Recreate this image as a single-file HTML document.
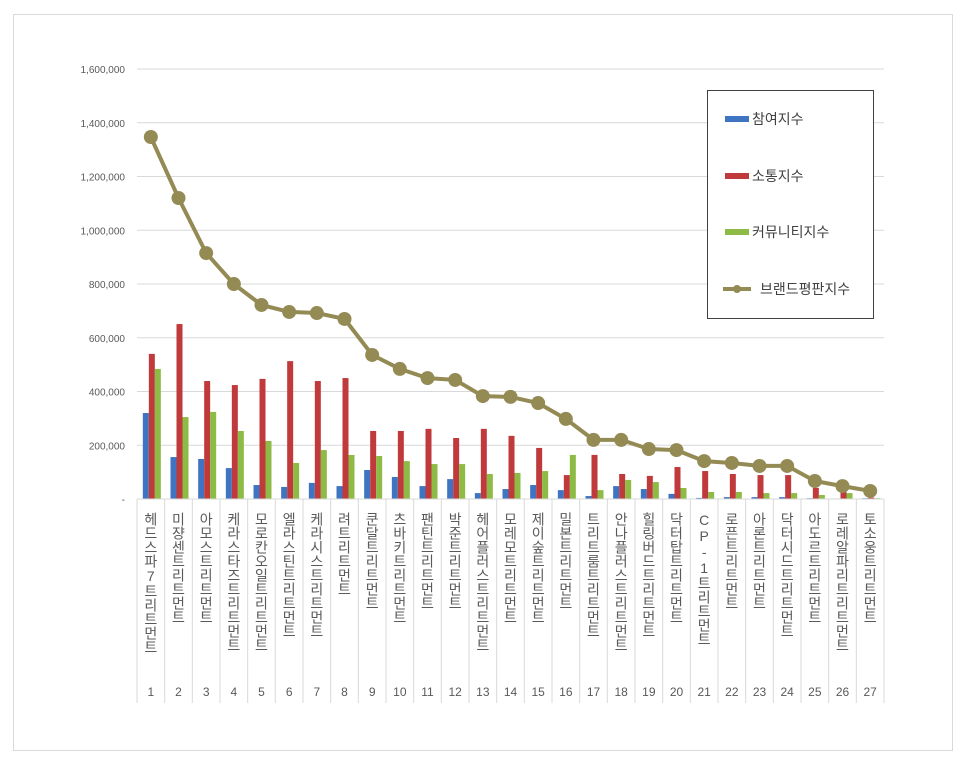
<!DOCTYPE html>
<html><head><meta charset="utf-8"><style>
body{margin:0;background:#fff;width:966px;height:762px;overflow:hidden;font-family:"Liberation Sans","Noto Sans CJK KR",sans-serif}
svg{position:absolute;left:0;top:0}
</style></head><body>
<svg id="chart" width="966" height="762" xmlns="http://www.w3.org/2000/svg">
<rect x="13.5" y="14.5" width="939" height="736" fill="#fff" stroke="#d9d9d9"/>
<g id="grid"></g><g id="bars"></g><g id="line"></g><g id="xaxis"></g>
<g>
<rect x="707.5" y="90.5" width="166" height="228" fill="#fff" stroke="#404040"/>
<rect x="725" y="116" width="24" height="6" fill="#3f74c2"/>
<text x="752" y="124" font-size="14" fill="#404040">참여지수</text>
<rect x="725" y="173" width="24" height="6" fill="#c0393b"/>
<text x="752" y="181" font-size="14" fill="#404040">소통지수</text>
<rect x="725" y="229" width="24" height="6" fill="#8dbb45"/>
<text x="752" y="237" font-size="14" fill="#404040">커뮤니티지수</text>
<line x1="723" y1="289" x2="751" y2="289" stroke="#948a54" stroke-width="4"/>
<circle cx="737" cy="289" r="4" fill="#948a54"/>
<text x="760" y="294" font-size="14" fill="#404040">브랜드평판지수</text>
</g>
</svg>
<script>
const categories=["헤드스파7트리트먼트","미쟝센트리트먼트","아모스트리트먼트","케라스타즈트리트먼트","모로칸오일트리트먼트","엘라스틴트리트먼트","케라시스트리트먼트","려트리트먼트","쿤달트리트먼트","츠바키트리트먼트","팬틴트리트먼트","박준트리트먼트","헤어플러스트리트먼트","모레모트리트먼트","제이숲트리트먼트","밀본트리트먼트","트리트룸트리트먼트","안나플러스트리트먼트","힐링버드트리트먼트","닥터탑트리트먼트","CP-1트리트먼트","로픈트리트먼트","아론트리트먼트","닥터시드트리트먼트","아도르트리트먼트","로레알파리트리트먼트","토소웅트리트먼트"];
const participation=[320000,156000,149000,115000,52000,45000,60000,48000,108000,82000,48000,74000,22000,37000,52000,33000,11000,48000,37000,19000,4000,7000,7000,7000,3000,2000,3000];
const communication=[540000,651000,439000,424000,447000,513000,439000,450000,253000,253000,261000,227000,261000,235000,190000,89000,164000,93000,86000,119000,104000,93000,89000,89000,41000,30000,5000];
const community=[484000,305000,324000,253000,216000,134000,182000,164000,160000,141000,130000,130000,93000,97000,104000,164000,33000,71000,63000,41000,26000,26000,22000,22000,15000,22000,3000];
const brandIndex=[1347000,1120000,915000,800000,722000,696000,692000,670000,536000,484000,450000,443000,383000,380000,357000,298000,220000,220000,186000,182000,141000,134000,123000,123000,67000,48000,30000];
const yTicks=[0,200000,400000,600000,800000,1000000,1200000,1400000,1600000];
const NS="http://www.w3.org/2000/svg";
const X0=137,X1=884,Y0=499,Y1=69,YMAX=1600000;
const cw=(X1-X0)/categories.length;
const y=v=>Y0-(v/YMAX)*(Y0-Y1);
const cx=i=>X0+(i+0.5)*cw;
function mk(tag,parent,attrs){const e=document.createElementNS(NS,tag);for(const k in attrs)e.setAttribute(k,attrs[k]);document.getElementById(parent).appendChild(e);return e;}
yTicks.forEach(t=>{
 if(t>0){const l=mk('line','grid',{x1:X0,x2:X1,y1:y(t),y2:y(t),stroke:'#d9d9d9'});
 
 }
 const tx=mk('text','grid',{x:125,y:y(t)+4,'font-size':10,'text-anchor':'end',fill:'#595959'});
 tx.textContent=t===0?'-':t.toLocaleString('en-US');
 
 
});
const series=[[participation,'#3f74c2',-8,'bar-participation'],[communication,'#c0393b',-2,'bar-communication'],[community,'#8dbb45',4,'bar-community']];
series.forEach(([arr,col,off,name])=>arr.forEach((v,i)=>{
 const r=mk('rect','bars',{x:cx(i)+off,y:y(v),width:6,height:Y0-y(v),fill:col});
 
 
}));
const pts=brandIndex.map((v,i)=>cx(i).toFixed(1)+','+y(v).toFixed(1)).join(' ');
const pl=mk('polyline','line',{points:pts,fill:'none',stroke:'#948a54','stroke-width':4,'stroke-linejoin':'round'});


brandIndex.forEach((v,i)=>{
 const c=mk('circle','line',{cx:cx(i),cy:y(v),r:7,fill:'#948a54'});
 
 
});
const ax=mk('line','xaxis',{x1:X0,x2:X1,y1:Y0,y2:Y0,stroke:'#d9d9d9'});


for(let i=0;i<=categories.length;i++){
 const l=mk('line','xaxis',{x1:X0+i*cw,x2:X0+i*cw,y1:Y0,y2:703,stroke:'#d9d9d9'});
 
 
}
categories.forEach((c,i)=>{
 const t=mk('text','xaxis',{x:cx(i),y:512,'font-size':14,fill:'#595959',style:'writing-mode:vertical-rl;text-orientation:upright'});
 t.textContent=c;
 
 
 const n=mk('text','xaxis',{x:cx(i),y:696,'font-size':12,'text-anchor':'middle',fill:'#595959'});
 n.textContent=String(i+1);
 
 
});
</script>
</body></html>
